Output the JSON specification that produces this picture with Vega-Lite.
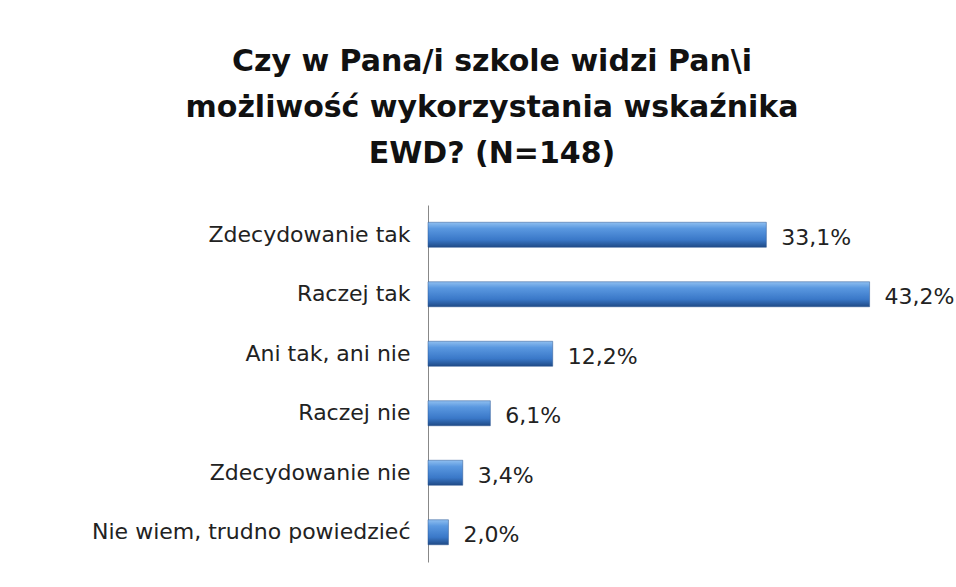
{
  "$schema": "https://vega.github.io/schema/vega-lite/v6.json",
  "autosize": {"type": "none"},
  "padding": {"left": 428, "top": 205, "right": 68, "bottom": 25},
  "width": 460,
  "height": 357,
  "background": "white",
  "config": {
    "view": {"stroke": null},
    "locale": {"number": {"decimal": ",", "thousands": " ", "grouping": [3], "currency": ["", " zł"]}}
  },
  "title": {
    "text": ["Czy w Pana/i szkole widzi Pan\\i", "możliwość wykorzystania wskaźnika", "EWD? (N=148)"],
    "font": "DejaVu Sans",
    "fontSize": 30,
    "fontWeight": "bold",
    "lineHeight": 46,
    "color": "#111111",
    "anchor": "middle",
    "frame": "group",
    "dx": -166,
    "offset": 36
  },
  "data": {
    "values": [
      {"kategoria": "Zdecydowanie tak", "wartosc": 0.331},
      {"kategoria": "Raczej tak", "wartosc": 0.432},
      {"kategoria": "Ani tak, ani nie", "wartosc": 0.122},
      {"kategoria": "Raczej nie", "wartosc": 0.061},
      {"kategoria": "Zdecydowanie nie", "wartosc": 0.034},
      {"kategoria": "Nie wiem, trudno powiedzieć", "wartosc": 0.020}
    ]
  },
  "encoding": {
    "y": {
      "field": "kategoria",
      "type": "nominal",
      "sort": null,
      "title": null,
      "axis": {
        "ticks": false,
        "domainColor": "#888888",
        "domainWidth": 1,
        "labelFont": "DejaVu Sans",
        "labelFontSize": 22,
        "labelColor": "#222222",
        "labelPadding": 18,
        "labelLimit": 420
      }
    },
    "x": {
      "field": "wartosc",
      "type": "quantitative",
      "scale": {"domain": [0, 0.45]},
      "axis": null
    }
  },
  "layer": [
    {
      "mark": {
        "type": "bar",
        "size": 25,
        "stroke": "#2a5590",
        "strokeWidth": 0.5,
        "color": {
          "gradient": "linear",
          "x1": 0, "y1": 0, "x2": 0, "y2": 1,
          "stops": [
            {"offset": 0, "color": "#8fbff0"},
            {"offset": 0.25, "color": "#5a98e0"},
            {"offset": 0.7, "color": "#3a78c8"},
            {"offset": 1, "color": "#1f4a86"}
          ]
        }
      }
    },
    {
      "mark": {
        "type": "text",
        "align": "left",
        "baseline": "middle",
        "dx": 15,
        "dy": 3,
        "font": "DejaVu Sans",
        "fontSize": 22,
        "color": "#222222"
      },
      "encoding": {
        "text": {"field": "wartosc", "type": "quantitative", "format": ".1%"}
      }
    }
  ]
}
